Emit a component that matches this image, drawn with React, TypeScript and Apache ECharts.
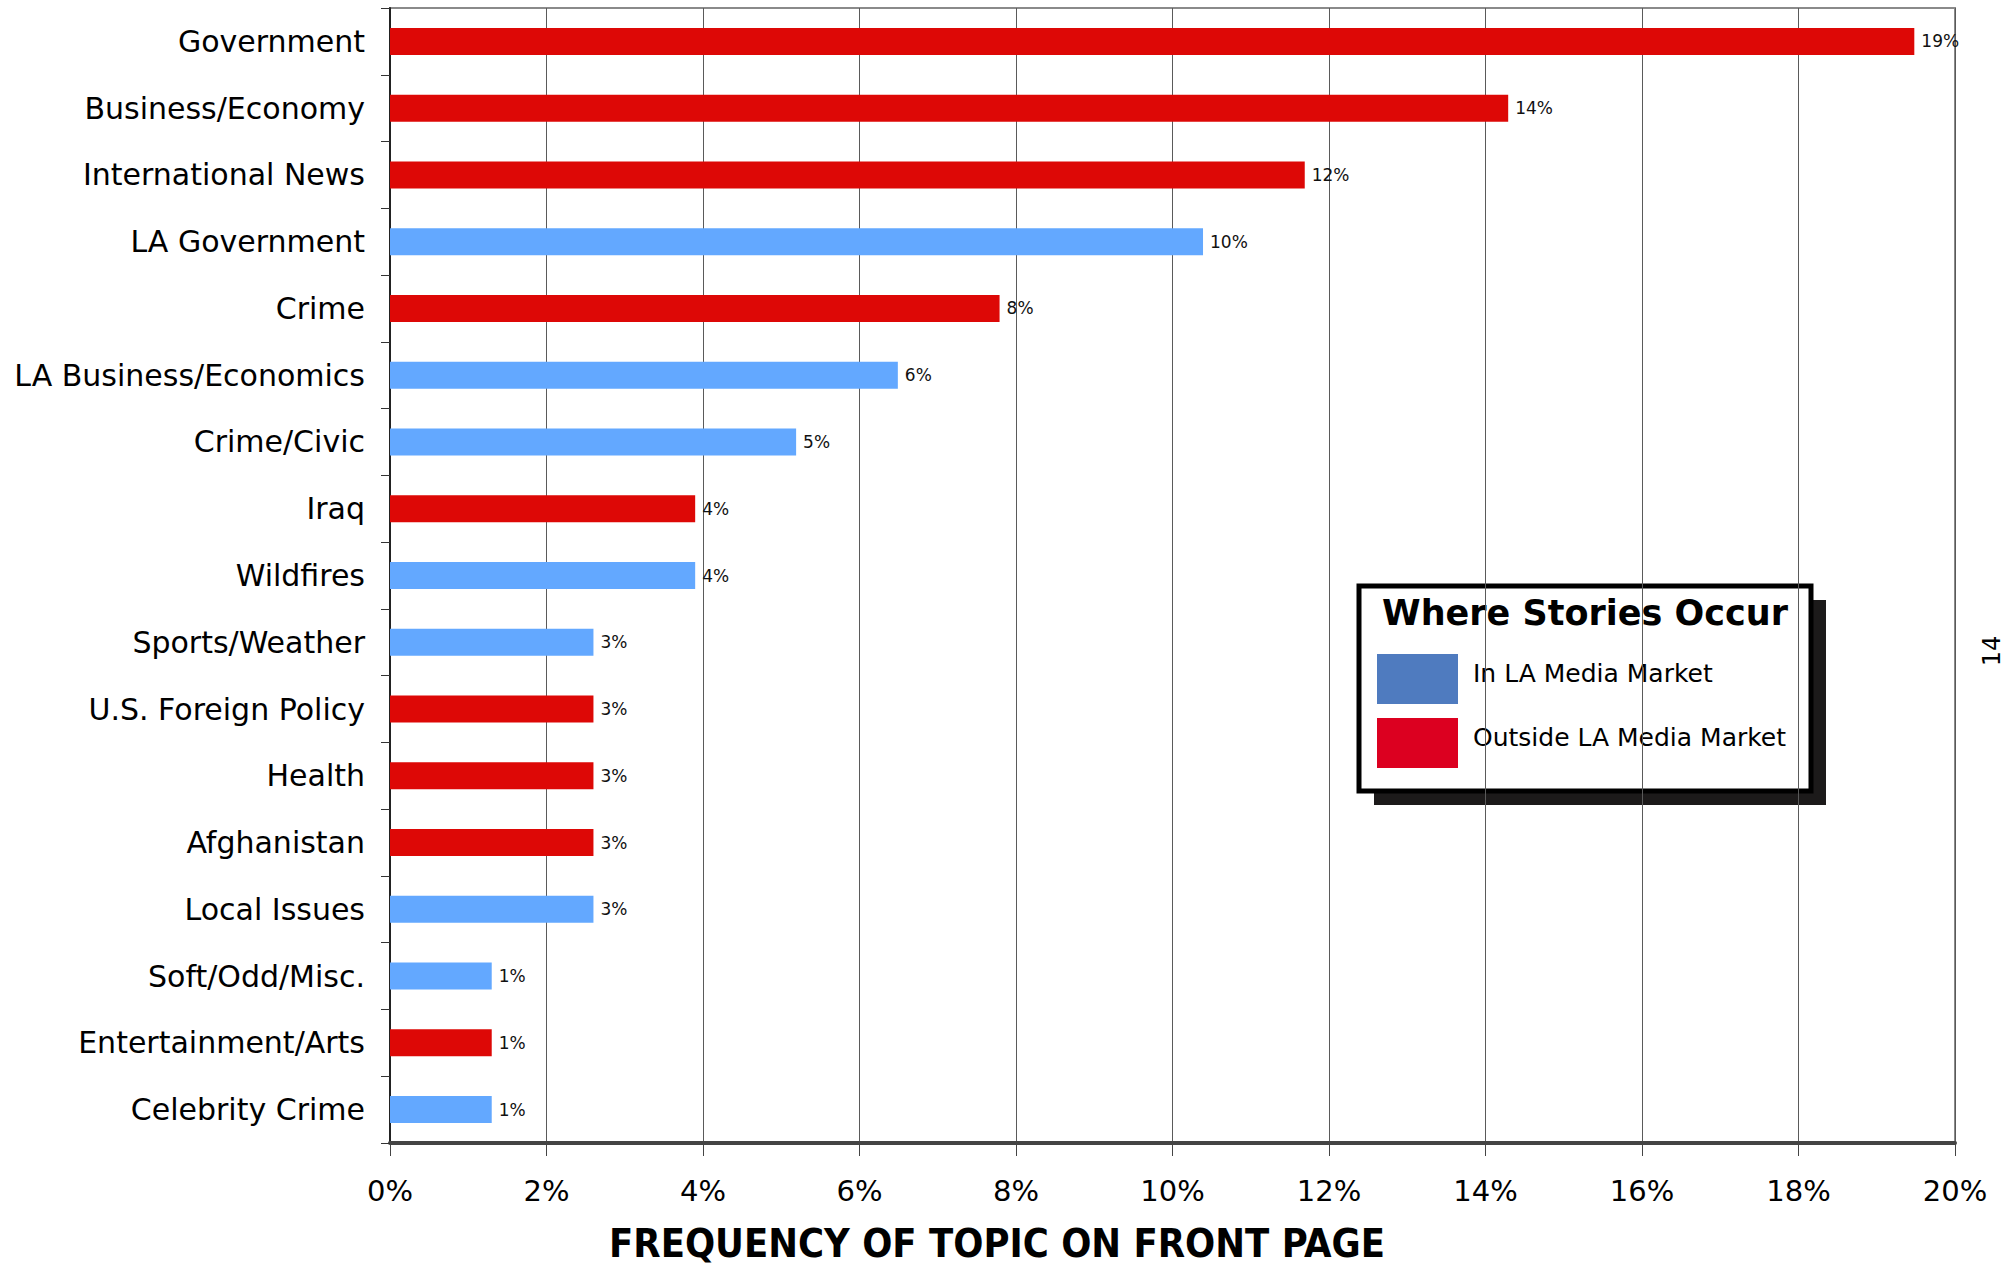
import React, { useEffect, useRef } from "react";
import * as echarts from "echarts";

const categories = [
  "Government",
  "Business/Economy",
  "International News",
  "LA Government",
  "Crime",
  "LA Business/Economics",
  "Crime/Civic",
  "Iraq",
  "Wildfires",
  "Sports/Weather",
  "U.S. Foreign Policy",
  "Health",
  "Afghanistan",
  "Local Issues",
  "Soft/Odd/Misc.",
  "Entertainment/Arts",
  "Celebrity Crime",
];

const values = [
  19.48, 14.29, 11.69, 10.39, 7.79, 6.49, 5.19, 3.9, 3.9, 2.6, 2.6, 2.6, 2.6,
  2.6, 1.3, 1.3, 1.3,
];

const where = [
  "Outside", "Outside", "Outside", "In", "Outside", "In", "In", "Outside", "In",
  "In", "Outside", "Outside", "Outside", "In", "In", "Outside", "In",
];

const legendLabels = ["In LA Media Market", "Outside LA Media Market"];
const xTicks = { min: 0, max: 20, interval: 2 };

const BAR_IN = "#63A8FF";
const BAR_OUT = "#DD0806";
const LEG_IN = "#4F7BBF";
const LEG_OUT = "#DC0020";
const FONT = "DejaVu Sans";

export default function App() {
  const ref = useRef<HTMLDivElement>(null);

  useEffect(() => {
    if (!ref.current) return;
    const chart = echarts.init(ref.current, null, { renderer: "svg" });
    const data = values.map((v, i) => ({
      value: v,
      itemStyle: { color: where[i] === "In" ? BAR_IN : BAR_OUT },
    }));

    const lx = 1359;
    const ly = 586;
    const lw = 452;
    const lh = 205;

    chart.setOption({
      animation: false,
      backgroundColor: "#ffffff",
      textStyle: { fontFamily: FONT },
      grid: {
        left: 390,
        right: 59,
        top: 8,
        bottom: 124,
        show: true,
        borderColor: "#8a8a8a",
        borderWidth: 2,
        backgroundColor: "transparent",
      },
      xAxis: {
        type: "value",
        min: xTicks.min,
        max: xTicks.max,
        interval: xTicks.interval,
        axisLine: { show: true, lineStyle: { color: "#444", width: 4 } },
        axisTick: { show: true, length: 13, lineStyle: { color: "#444", width: 1 } },
        axisLabel: {
          formatter: "{value}%",
          fontSize: 29,
          color: "#000",
          margin: 33,
          fontFamily: FONT,
        },
        splitLine: { show: true, lineStyle: { color: "#5a5a5a", width: 1 } },
      },
      yAxis: {
        type: "category",
        data: categories,
        inverse: true,
        axisLine: { show: true, lineStyle: { color: "#222", width: 2 } },
        axisTick: { show: true, length: 9, alignWithLabel: false, lineStyle: { color: "#333", width: 1 } },
        axisLabel: { fontSize: 30, color: "#000", margin: 25, fontFamily: FONT },
        splitLine: { show: false },
      },
      series: [
        {
          type: "bar",
          data,
          barWidth: 27,
          label: {
            show: true,
            position: "right",
            distance: 7,
            fontSize: 17,
            color: "#111",
            fontFamily: FONT,
            formatter: (p: any) => Math.round(p.value) + "%",
          },
        },
      ],
      graphic: [
        {
          type: "text",
          x: 997,
          y: 1243,
          style: {
            text: "FREQUENCY OF TOPIC ON FRONT PAGE",
            fontSize: 39.5,
            fontWeight: "bold",
            fontFamily: "DejaVu Sans Condensed",
            fill: "#000",
            align: "center",
            verticalAlign: "middle",
          },
        },
        {
          type: "text",
          x: 1992,
          y: 651,
          rotation: Math.PI / 2,
          style: {
            text: "14",
            fontSize: 24,
            fontFamily: FONT,
            fill: "#000",
            align: "center",
            verticalAlign: "middle",
          },
        },
        {
          type: "group",
          x: lx,
          y: ly,
          children: [
            { type: "rect", shape: { x: 15, y: 14, width: lw, height: lh }, style: { fill: "#1c1a1a" } },
            { type: "rect", shape: { x: 0, y: 0, width: lw, height: lh }, style: { fill: "#fff", stroke: "#000", lineWidth: 5 } },
            {
              type: "text",
              x: lw / 2,
              y: 27,
              style: {
                text: "Where Stories Occur",
                fontSize: 35,
                fontWeight: "bold",
                fontFamily: FONT,
                fill: "#000",
                align: "center",
                verticalAlign: "middle",
              },
            },
            { type: "rect", shape: { x: 18, y: 68, width: 81, height: 50 }, style: { fill: LEG_IN } },
            { type: "rect", shape: { x: 18, y: 132, width: 81, height: 50 }, style: { fill: LEG_OUT } },
            {
              type: "text",
              x: 114,
              y: 87,
              style: { text: legendLabels[0], fontSize: 25, fontFamily: FONT, fill: "#000", verticalAlign: "middle" },
            },
            {
              type: "text",
              x: 114,
              y: 151,
              style: { text: legendLabels[1], fontSize: 25, fontFamily: FONT, fill: "#000", verticalAlign: "middle" },
            },
          ],
        },
      ],
    });
    return () => chart.dispose();
  }, []);

  return (
    <div
      ref={ref}
      style={{ position: "fixed", left: 0, top: 0, width: 2014, height: 1267, background: "#fff" }}
    />
  );
}
